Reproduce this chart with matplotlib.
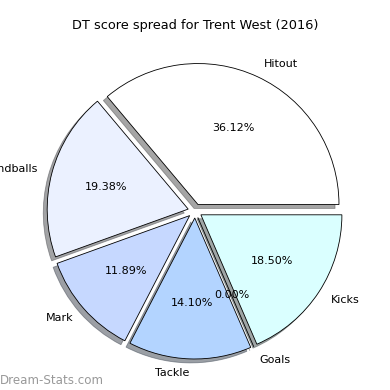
import matplotlib
matplotlib.use("Agg")
import matplotlib.pyplot as plt

labels = ["Hitout", "Handballs", "Mark", "Tackle", "Goals", "Kicks"]
values = [36.12, 19.38, 11.89, 14.10, 0.00, 18.50]
colors = ["#ffffff", "#ebf1ff", "#c6d8ff", "#b3d4ff", "#e0f0ff", "#daffff"]
explode = [0.05] * len(values)

fig = plt.figure(figsize=(3.9, 3.9), dpi=100)
ax = fig.add_axes([0, 0, 1, 1])
wedges, texts, autotexts = ax.pie(
    values, labels=labels, colors=colors, explode=explode,
    autopct="%1.2f%%", shadow=True, startangle=0,
    wedgeprops=dict(edgecolor="black", linewidth=0.6),
    textprops=dict(fontsize=8),
)
ax.set_xlim(-1.383, 1.383)
ax.set_ylim(-1.27, 1.496)
ax.set_aspect("auto")
ax.axis("off")

fig.text(0.5, 0.935, "DT score spread for Trent West (2016)", ha="center", va="center", fontsize=9.3)
fig.text(0.0, 0.025, "Dream-Stats.com", ha="left", va="center", fontsize=8.6, color="#999999")

fig.savefig("out.png", dpi=100)
